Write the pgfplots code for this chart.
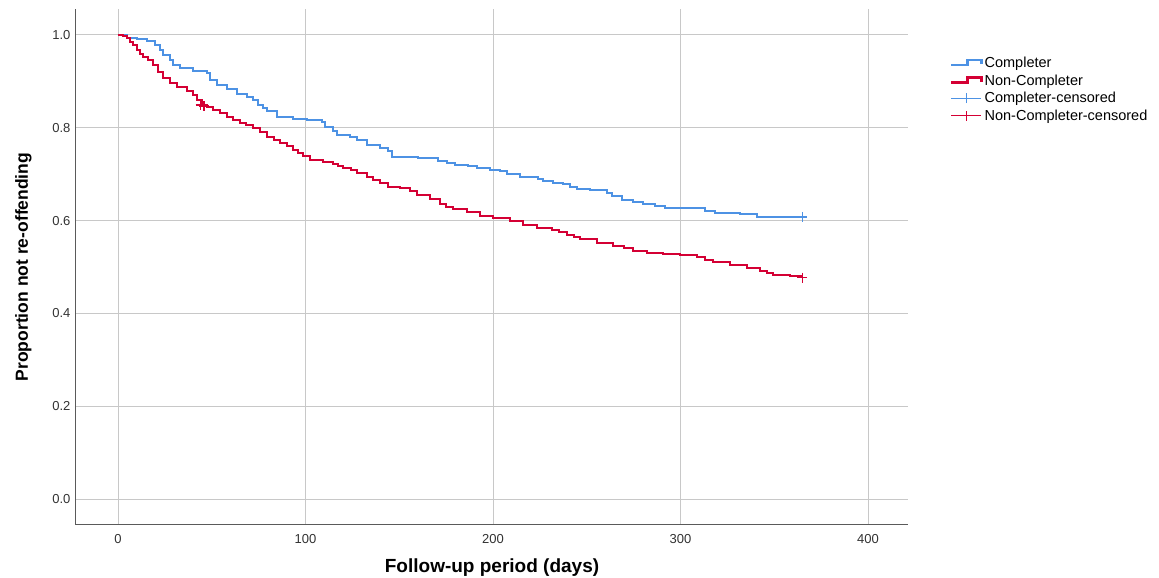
\documentclass[border=0pt]{standalone}
\usepackage{pgfplots}
\pgfplotsset{compat=1.18}
\usepackage{fontspec}
\setmainfont{Liberation Sans}
\definecolor{kmblue}{RGB}{77,146,228}
\definecolor{kmred}{RGB}{212,0,52}
\definecolor{gridgray}{RGB}{200,200,200}
\definecolor{axisgray}{RGB}{90,90,90}
\definecolor{ticktext}{RGB}{50,50,50}
\begin{document}
\begin{tikzpicture}[x=1pt,y=1pt]
\useasboundingbox (0,0) rectangle (1159,578);
\begin{axis}[
  at={(76pt,53pt)}, anchor=south west,
  scale only axis, width=832pt, height=516pt,
  xmin=-22.4, xmax=421.3, ymin=-0.056, ymax=1.056,
  xtick={0,100,200,300,400}, ytick={0,0.2,0.4,0.6,0.8,1.0},
  yticklabel style={/pgf/number format/fixed, /pgf/number format/fixed zerofill, /pgf/number format/precision=1, xshift=-2pt},
  /pgf/number format/assume math mode=true,
  tick style={draw=none},
  ticklabel style={font=\fontsize{13}{13}\selectfont, text=ticktext},
  xticklabel style={yshift=-6pt},
  grid=major, grid style={gridgray, line width=1pt},
  axis x line*=bottom, axis y line*=left,
  axis line style={axisgray, line width=1pt, -},
  xlabel={Follow-up period (days)},
  ylabel={Proportion not re-offending},
  xlabel style={font=\bfseries\fontsize{19}{19}\selectfont, yshift=-8pt},
  ylabel style={font=\bfseries\fontsize{17.5}{17.5}\selectfont, yshift=14pt},
  legend style={at={(1.047,0.915)}, anchor=north west, draw=none, fill=none,
    font=\fontsize{14.5}{14.5}\selectfont, row sep=1.5pt,
    /tikz/every even column/.append style={column sep=1pt}},
  legend cell align=left,
]
\addplot[const plot, kmblue, line width=2pt,
  legend image code/.code={\draw[kmblue, line width=2.3pt] (0pt,-2pt) -- (16pt,-2pt) -- (16pt,3pt) -- (30pt,3pt) -- (30pt,-1pt);}]
coordinates {
(0,1.0) (4.6,0.994) (10,0.991) (15.3,0.986) (19.7,0.978) (22.4,0.968) (24.2,0.957)
(27.7,0.946) (29.5,0.935) (33.1,0.928) (40.2,0.922) (47.3,0.919) (49.1,0.903)
(52.6,0.892) (58,0.883) (63.3,0.873) (68.6,0.867) (72.2,0.860) (74.8,0.849)
(77.5,0.842) (79.3,0.837) (84.6,0.824) (93.5,0.820) (100.6,0.817) (108.6,0.813)
(110.4,0.802) (114.8,0.792) (116.6,0.784) (123.7,0.781) (127.3,0.774)
(132.6,0.763) (139.7,0.756) (144.2,0.749) (146,0.738) (160,0.734) (170.7,0.728)
(175.5,0.725) (179.7,0.720) (186.7,0.718) (191.5,0.713) (198.4,0.709)
(203.7,0.706) (207.5,0.700) (214.4,0.695) (224,0.690) (226.7,0.685) (232,0.682)
(237.3,0.678) (241,0.673) (244.8,0.669) (251.7,0.666) (260.8,0.660) (263.5,0.652)
(268.8,0.644) (274.7,0.639) (280,0.635) (286.4,0.631) (291.7,0.627) (313,0.621)
(318.4,0.617) (331.7,0.614) (340.8,0.608) (365,0.608)
};
\addlegendentry{Completer}
\addplot[const plot, kmred, line width=2pt,
  legend image code/.code={\draw[kmred, line width=2.3pt] (0pt,-2pt) -- (16pt,-2pt) -- (16pt,3pt) -- (30pt,3pt) -- (30pt,-1pt);}]
coordinates {
(0,1.0) (2.5,0.997) (4.6,0.993) (6.5,0.985) (8.2,0.978) (10,0.968) (11.8,0.960) (13.5,0.953)
(16.2,0.946) (18.8,0.935) (21.5,0.921) (24.2,0.907) (27.7,0.896) (31.3,0.887)
(36.6,0.880) (40.2,0.871) (42,0.860) (44.6,0.849) (47.5,0.845) (50.8,0.838) (54.5,0.831) (58,0.824)
(61.5,0.817) (65.1,0.810) (68.5,0.805) (72.2,0.799) (75.8,0.790) (79.3,0.781) (83,0.774) (86.4,0.767)
(90,0.760) (93.5,0.752) (96,0.746) (98.8,0.739) (102.4,0.731) (109.5,0.726) (114.8,0.723)
(117.5,0.718) (120.2,0.713) (124,0.708) (127.3,0.703) (132.6,0.695) (136,0.688) (139.7,0.680)
(144.2,0.673) (150.4,0.670) (155.7,0.664) (159.3,0.655) (166.4,0.646)
(171.7,0.636) (175,0.630) (178.8,0.624) (186,0.619) (193.1,0.610) (200.2,0.605)
(209.1,0.600) (216.2,0.591) (223.3,0.585) (231.3,0.580) (235,0.575) (239.3,0.569)
(243,0.564) (246.4,0.560) (255.3,0.552) (264.2,0.545) (270,0.540) (274.8,0.535) (282,0.531)
(290.8,0.528) (299.7,0.526) (308.6,0.521) (313,0.516) (317.5,0.510) (326.4,0.504)
(335.3,0.497) (342.4,0.492) (346,0.488) (349.5,0.483) (358.4,0.481) (365,0.477)
};
\addlegendentry{Non-Completer}
\addplot[only marks, mark=+, mark size=5pt, kmblue, mark options={line width=1.6pt},
  legend image code/.code={\draw[kmblue, line width=0.8pt] (0pt,0pt) -- (30pt,0pt); \draw[kmblue, line width=0.8pt] (15pt,-5pt) -- (15pt,5pt);}]
coordinates {(365,0.608)};
\addlegendentry{Completer-censored}
\addplot[only marks, mark=+, mark size=5pt, kmred, mark options={line width=1.6pt},
  legend image code/.code={\draw[kmred, line width=0.8pt] (0pt,0pt) -- (30pt,0pt); \draw[kmred, line width=0.8pt] (15pt,-5pt) -- (15pt,5pt);}]
coordinates {(44,0.849) (46,0.847) (365,0.477)};
\addlegendentry{Non-Completer-censored}
\end{axis}
\end{tikzpicture}
\end{document}
